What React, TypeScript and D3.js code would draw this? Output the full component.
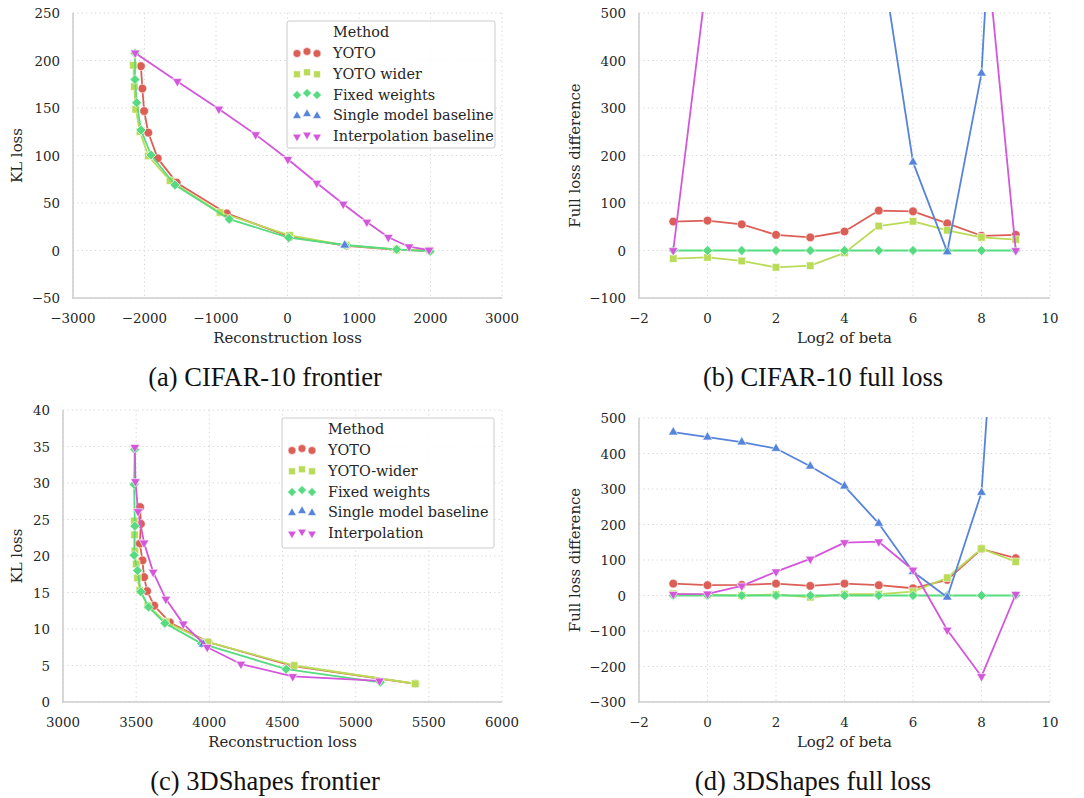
import { useMemo } from 'react';
import * as d3 from 'd3';

// ---- data ----
const betas = [-1, 0, 1, 2, 3, 4, 5, 6, 7, 8, 9];

// (a) CIFAR-10 frontier: reconstruction loss / KL loss
const cifarYotoRecon = [-2050, -2030, -2005, -1947, -1815, -1550, -850, 35, 828, 1527, 1993];
const cifarYotoKl = [194, 170.5, 146.8, 124, 97, 71.4, 39, 14.5, 5, 0.8, -0.5];
const cifarWiderRecon = [-2156, -2143, -2123, -2063, -1947, -1643, -944, 30, 820, 1527, 1993];
const cifarWiderKl = [195, 172.5, 148.6, 125, 99.5, 73.5, 40, 16, 5.5, 1, 0];
const cifarFixedRecon = [-2133, -2133, -2109, -2049, -1909, -1573, -814, 17, 804, 1527, 1993];
const cifarFixedKl = [207.6, 180, 155.6, 126.8, 100.5, 69, 33, 13.5, 5.8, 1.2, -1];
const cifarSingleRecon = [800];
const cifarSingleKl = [5.5];
const cifarInterpRecon = [-2130, -1540, -960, -445, 5, 410, 780, 1110, 1410, 1700, 1980];
const cifarInterpKl = [208, 178, 149, 122, 96, 71, 49, 30, 14, 4, 0.5];

// (b) CIFAR-10 full loss difference per log2 beta
const cifarYotoFull = [61, 63, 55, 33, 27.5, 40, 84, 82.5, 57, 31, 33];
const cifarWiderFull = [-17, -14.5, -22, -35.5, -32, -5, 51.5, 61.5, 42.5, 27.5, 23];
const cifarFixedFull = [0, 0, 0, 0, 0, 0, 0, 0, 0, 0, 0];
const cifarSingleFull = [3000, 2600, 2200, 1800, 1400, 1000, 655, 186, -3, 373, 1650];
const cifarInterpFull = [0, 584, 1500, 2200, 2600, 2800, 2600, 2000, 1400, 746, 0];

// (c) 3DShapes frontier
const shapesYotoRecon = [3527, 3532, 3525, 3543, 3554, 3575, 3623, 3730, 3993, 4575, 5407];
const shapesYotoKl = [26.7, 24.4, 21.7, 19.4, 17.1, 15.2, 13.2, 10.9, 8.2, 4.9, 2.5];
const shapesWiderRecon = [3487, 3489, 3491, 3500, 3509, 3525, 3580, 3700, 3990, 4580, 5407];
const shapesWiderKl = [24.8, 22.9, 20.7, 18.9, 17.0, 15.3, 13.2, 11.0, 8.2, 5.0, 2.5];
const shapesFixedRecon = [3490, 3486, 3491, 3486, 3509, 3532, 3585, 3696, 3947, 4525, 5168];
const shapesFixedKl = [34.6, 29.8, 24.1, 20.1, 18.0, 15.1, 13.0, 10.8, 8.0, 4.5, 2.7];
const shapesSingleRecon = [3958];
const shapesSingleKl = [7.9];
const shapesInterpRecon = [3491, 3495, 3513, 3554, 3616, 3703, 3822, 3986, 4216, 4570, 5163];
const shapesInterpKl = [34.9, 30.2, 26.1, 21.8, 17.8, 14.1, 10.7, 7.5, 5.2, 3.5, 2.9];

// (d) 3DShapes full loss difference
const shapesYotoFull = [33.4, 29, 30, 33.4, 27, 33.4, 29, 20.4, 44, 131, 105];
const shapesWiderFull = [5, 2, 0, 3, -5, 4, 4, 11, 50, 132, 95];
const shapesFixedFull = [0, 0, 0, 0, 0, 0, 0, 0, 0, 0, 0];
const shapesSingleFull = [460, 446, 432, 414, 364, 308, 203, 67, -5, 290, 1700];
const shapesInterpFull = [3.6, 4.5, 27, 67, 103, 149, 151.5, 72, -97, -228, 3.6];

const frontierXTicksA = [-3000, -2000, -1000, 0, 1000, 2000, 3000];
const frontierYTicksA = [-50, 0, 50, 100, 150, 200, 250];
const frontierXTicksC = [3000, 3500, 4000, 4500, 5000, 5500, 6000];
const frontierYTicksC = [0, 5, 10, 15, 20, 25, 30, 35, 40];
const betaTicks = [-2, 0, 2, 4, 6, 8, 10];
const fullYTicksB = [-100, 0, 100, 200, 300, 400, 500];
const fullYTicksD = [-300, -200, -100, 0, 100, 200, 300, 400, 500];

const methodNames = ['YOTO', 'YOTO wider', 'Fixed weights', 'Single model baseline', 'Interpolation baseline'];
const methodNamesShapes = ['YOTO', 'YOTO-wider', 'Fixed weights', 'Single model baseline', 'Interpolation'];
const colors = ['#db5f57', '#b9db57', '#57db80', '#5784db', '#d357db'];
const shapes = ['circle', 'square', 'diamond', 'up', 'down'];

const TICK_FONT = '"DejaVu Serif", serif';
const CAPTION_FONT = '"Liberation Serif", "Times New Roman", serif';

type Shape = string;
const fmt = d3.format('d');

function markerPath(shape: Shape, s: number) {
  if (shape === 'circle') return d3.symbol(d3.symbolCircle, s * 8)();
  if (shape === 'square') return d3.symbol(d3.symbolSquare, s * 7.6)();
  if (shape === 'diamond') return d3.symbol(d3.symbolSquare, s * 6.6)();
  return d3.symbol(d3.symbolTriangle, s * 5.4)();
}

function Marker({ shape, x, y, color, s = 7.5 }: { shape: Shape; x: number; y: number; color: string; s?: number }) {
  const rot = shape === 'diamond' ? 45 : shape === 'down' ? 180 : 0;
  return (
    <path
      d={markerPath(shape, s) || ''}
      transform={`translate(${x},${y}) rotate(${rot})`}
      fill={color}
      stroke="white"
      strokeWidth={0.6}
    />
  );
}

interface Series { xs: number[]; ys: number[]; color: string; shape: Shape }

interface PanelProps {
  id: string;
  box: { l: number; r: number; t: number; b: number };
  xDomain: [number, number];
  yDomain: [number, number];
  xTicks: number[];
  yTicks: number[];
  series: Series[];
  xLabel: string;
  yLabel: string;
  yLabelX: number;
  caption: string;
  captionX: number;
  captionY: number;
  legend?: { x: number; y: number; w: number; h: number; names: string[] };
}

function Panel(p: PanelProps) {
  const x = useMemo(() => d3.scaleLinear().domain(p.xDomain).range([p.box.l, p.box.r]), [p.xDomain, p.box]);
  const y = useMemo(() => d3.scaleLinear().domain(p.yDomain).range([p.box.b, p.box.t]), [p.yDomain, p.box]);
  const line = d3.line<[number, number]>().x(d => x(d[0])).y(d => y(d[1]));
  const midY = (p.box.t + p.box.b) / 2;
  const midX = (p.box.l + p.box.r) / 2;

  return (
    <g>
      <defs>
        <clipPath id={`clip-${p.id}`}>
          <rect x={p.box.l} y={p.box.t - 1} width={p.box.r - p.box.l} height={p.box.b - p.box.t + 1} />
        </clipPath>
      </defs>
      {/* grid */}
      {p.xTicks.map(t => (
        <line key={'gx' + t} x1={x(t)} x2={x(t)} y1={p.box.t} y2={p.box.b} stroke="#d4d4d4" strokeWidth={1} strokeDasharray="1.2,3.2" />
      ))}
      {p.yTicks.map(t => (
        <line key={'gy' + t} x1={p.box.l} x2={p.box.r} y1={y(t)} y2={y(t)} stroke="#d4d4d4" strokeWidth={1} strokeDasharray="1.2,3.2" />
      ))}
      {/* spines */}
      <line x1={p.box.l} x2={p.box.l} y1={p.box.t} y2={p.box.b + 0.7} stroke="#cccccc" strokeWidth={1.5} />
      <line x1={p.box.l - 0.7} x2={p.box.r} y1={p.box.b} y2={p.box.b} stroke="#cccccc" strokeWidth={1.5} />
      {/* tick labels */}
      <g fontFamily={TICK_FONT} fontSize={13.4} fill="#262626">
        {p.xTicks.map(t => (
          <text key={'tx' + t} x={x(t)} y={p.box.b + 25} textAnchor="middle">{fmt(t)}</text>
        ))}
        {p.yTicks.map(t => (
          <text key={'ty' + t} x={p.box.l - 13} y={y(t) + 5} textAnchor="end">{fmt(t)}</text>
        ))}
      </g>
      <text x={midX} y={p.box.b + 45} textAnchor="middle" fontFamily={TICK_FONT} fontSize={14.9} fill="#262626">{p.xLabel}</text>
      <text transform={`translate(${p.yLabelX},${midY}) rotate(-90)`} dy="0.35em" textAnchor="middle" fontFamily={TICK_FONT} fontSize={14.9} fill="#262626">{p.yLabel}</text>
      {/* series */}
      <g clipPath={`url(#clip-${p.id})`}>
        {p.series.map((s, i) => (
          <g key={'s' + i}>
            <path d={line(s.xs.map((v, j) => [v, s.ys[j]] as [number, number])) || ''} fill="none" stroke={s.color} strokeWidth={1.8} strokeLinejoin="round" />
            {s.xs.map((v, j) => (
              <Marker key={j} shape={s.shape} x={x(v)} y={y(s.ys[j])} color={s.color} />
            ))}
          </g>
        ))}
      </g>
      {/* legend */}
      {p.legend && (
        <g>
          <rect x={p.legend.x} y={p.legend.y} width={p.legend.w} height={p.legend.h} rx={2} fill="white" fillOpacity={0.85} stroke="#cccccc" strokeWidth={1} />
          <text x={p.legend.x + 46} y={p.legend.y + 16} fontFamily={TICK_FONT} fontSize={14.4} fill="#262626">Method</text>
          {p.legend.names.map((n, i) => {
            const cy = p.legend!.y + 32 + i * 20.8;
            return (
              <g key={n}>
                {[0, 1, 2].map(k => (
                  <Marker key={k} shape={shapes[i]} x={p.legend!.x + 10 + k * 10} y={cy + (k === 1 ? -1.5 : 0.5)} color={colors[i]} s={6.2} />
                ))}
                <text x={p.legend!.x + 46} y={cy + 5} fontFamily={TICK_FONT} fontSize={14.4} fill="#262626">{n}</text>
              </g>
            );
          })}
        </g>
      )}
      <text x={p.captionX} y={p.captionY + 9} textAnchor="middle" fontFamily={CAPTION_FONT} fontSize={26.5} fill="#111">{p.caption}</text>
    </g>
  );
}

function mk(xsList: number[][], ysList: number[][]): Series[] {
  return xsList.map((xs, i) => ({ xs, ys: ysList[i], color: colors[i], shape: shapes[i] }));
}

export default function App() {
  const seriesA = mk(
    [cifarYotoRecon, cifarWiderRecon, cifarFixedRecon, cifarSingleRecon, cifarInterpRecon],
    [cifarYotoKl, cifarWiderKl, cifarFixedKl, cifarSingleKl, cifarInterpKl]
  );
  const seriesB = mk(
    [betas, betas, betas, betas, betas],
    [cifarYotoFull, cifarWiderFull, cifarFixedFull, cifarSingleFull, cifarInterpFull]
  );
  const seriesC = mk(
    [shapesYotoRecon, shapesWiderRecon, shapesFixedRecon, shapesSingleRecon, shapesInterpRecon],
    [shapesYotoKl, shapesWiderKl, shapesFixedKl, shapesSingleKl, shapesInterpKl]
  );
  const seriesD = mk(
    [betas, betas, betas, betas, betas],
    [shapesYotoFull, shapesWiderFull, shapesFixedFull, shapesSingleFull, shapesInterpFull]
  );

  return (
    <div style={{ position: 'absolute', left: 0, top: 0, background: 'white' }}>
      <svg width={1084} height={798} style={{ display: 'block' }}>
        <rect width={1084} height={798} fill="white" />
        <Panel id="a" box={{ l: 73, r: 502, t: 13, b: 298 }} xDomain={[-3000, 3000]} yDomain={[-50, 250]}
          xTicks={frontierXTicksA} yTicks={frontierYTicksA} series={seriesA}
          xLabel="Reconstruction loss" yLabel="KL loss" yLabelX={17}
          caption="(a) CIFAR-10 frontier" captionX={265} captionY={377}
          legend={{ x: 287, y: 21, w: 208, h: 127, names: methodNames }} />
        <Panel id="b" box={{ l: 639, r: 1050, t: 13, b: 298 }} xDomain={[-2, 10]} yDomain={[-100, 500]}
          xTicks={betaTicks} yTicks={fullYTicksB} series={seriesB}
          xLabel="Log2 of beta" yLabel="Full loss difference" yLabelX={575}
          caption="(b) CIFAR-10 full loss" captionX={823} captionY={377} />
        <Panel id="c" box={{ l: 63, r: 502, t: 410, b: 702 }} xDomain={[3000, 6000]} yDomain={[0, 40]}
          xTicks={frontierXTicksC} yTicks={frontierYTicksC} series={seriesC}
          xLabel="Reconstruction loss" yLabel="KL loss" yLabelX={17}
          caption="(c) 3DShapes frontier" captionX={265} captionY={781}
          legend={{ x: 282, y: 418, w: 212, h: 130, names: methodNamesShapes }} />
        <Panel id="d" box={{ l: 639, r: 1050, t: 418, b: 702 }} xDomain={[-2, 10]} yDomain={[-300, 500]}
          xTicks={betaTicks} yTicks={fullYTicksD} series={seriesD}
          xLabel="Log2 of beta" yLabel="Full loss difference" yLabelX={575}
          caption="(d) 3DShapes full loss" captionX={813} captionY={781} />
      </svg>
    </div>
  );
}
